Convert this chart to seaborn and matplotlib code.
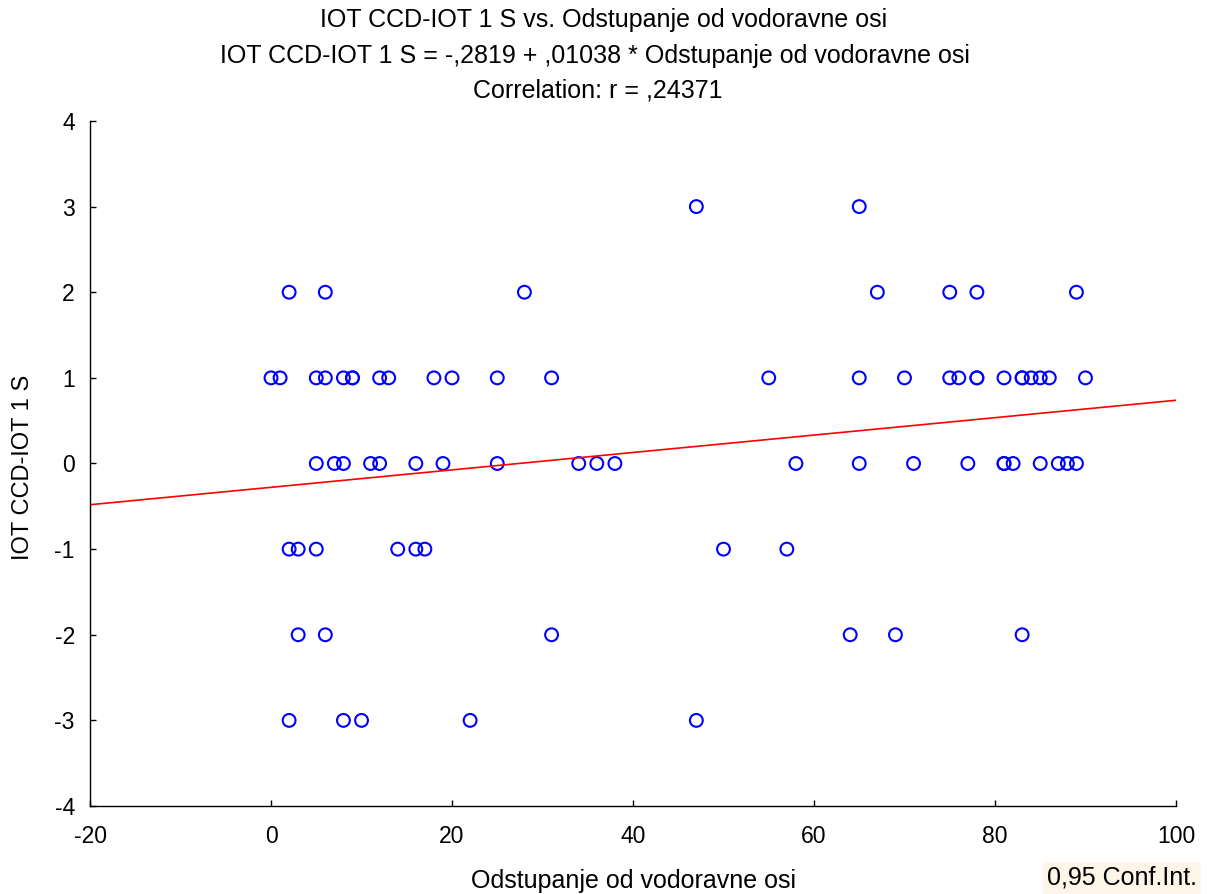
import numpy as np
import pandas as pd
import matplotlib
matplotlib.use("Agg")
import matplotlib.pyplot as plt
import seaborn as sns

# values, grouped by y level
x_p3 = [47, 65]
x_p2 = [2, 6, 28, 67, 75, 78, 89]
x_p1 = [0, 1, 5, 6, 8, 9, 9, 12, 13, 18, 20, 25, 31, 55, 65, 70, 75, 76, 78, 78,
        81, 83, 83, 84, 85, 86, 90]
x_0 = [5, 7, 8, 11, 12, 16, 19, 25, 34, 36, 38, 58, 65, 71, 77, 81, 81, 82, 85,
       87, 88, 89]
x_m1 = [2, 3, 5, 14, 16, 17, 50, 57]
x_m2 = [3, 6, 31, 64, 69, 83]
x_m3 = [2, 8, 10, 22, 47]

groups = {3: x_p3, 2: x_p2, 1: x_p1, 0: x_0, -1: x_m1, -2: x_m2, -3: x_m3}
rows = [(x, y) for y, xs in groups.items() for x in xs]
df = pd.DataFrame(rows, columns=["odstupanje", "iot"])

xlab = "Odstupanje od vodoravne osi"
ylab = "IOT CCD-IOT 1 S"

sns.set_style("white")
plt.rcParams["font.family"] = ["Liberation Sans", "DejaVu Sans"]
plt.rcParams["axes.unicode_minus"] = False
plt.rcParams["text.color"] = "black"
plt.rcParams["axes.labelcolor"] = "black"

fig = plt.figure(figsize=(12.07, 8.94), dpi=100)
ax = fig.add_axes([0.0746, 0.0984, 0.8997, 0.7663])
ax.set_xlim(-20, 100)
ax.set_ylim(-4, 4)

sns.regplot(data=df, x="odstupanje", y="iot", ax=ax, ci=None, truncate=False,
            scatter_kws=dict(facecolors="none", edgecolors="blue", s=85,
                             linewidths=1.5, alpha=1),
            line_kws=dict(color="red", lw=1.2))

ax.set_xlim(-20, 100)
ax.set_ylim(-4, 4)
ax.set_xticks(range(-20, 101, 20))
ax.set_yticks(range(-4, 5))
ax.tick_params(direction="in", length=4, width=1, labelsize=16.5, colors="black",
               left=True, bottom=True)
ax.tick_params(axis="x", pad=14)
ax.tick_params(axis="y", pad=11)
for side in ["top", "right"]:
    ax.spines[side].set_visible(False)
for side in ["left", "bottom"]:
    ax.spines[side].set_color("black")
    ax.spines[side].set_linewidth(1)

ax.set_xlabel(xlab, fontsize=18)
ax.xaxis.set_label_coords(0.5, -0.092)
ax.set_ylabel(ylab, fontsize=17)
ax.yaxis.set_label_coords(-0.052, 0.495)

fig.text(0.5, 0.9776, ylab + " vs. " + xlab, ha="center", va="center", fontsize=18)
fig.text(0.493, 0.9374, ylab + " = -,2819 + ,01038 * " + xlab, ha="center", va="center", fontsize=18)
fig.text(0.495, 0.8993, "Correlation: r = ,24371", ha="center", va="center", fontsize=18)

fig.text(0.9917, 0.0179, "0,95 Conf.Int.", ha="right", va="center", fontsize=18,
         bbox=dict(facecolor="#fdf6e8", edgecolor="none", pad=3))

fig.savefig("out.png", dpi=100)
